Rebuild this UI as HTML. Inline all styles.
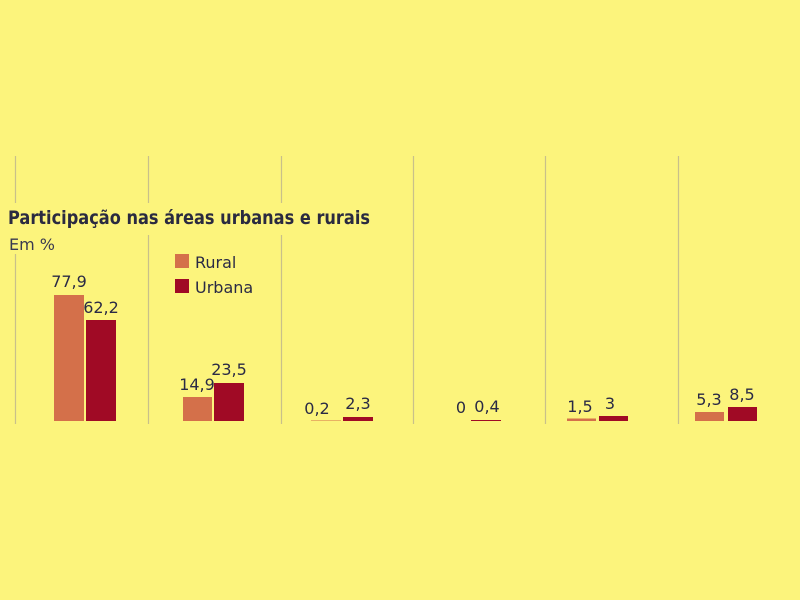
<!DOCTYPE html>
<html><head><meta charset="utf-8"><style>
html,body{margin:0;padding:0;background:#fcf47c;}
svg{display:block;font-family:"DejaVu Sans","Liberation Sans",sans-serif;}
</style></head><body>
<svg width="800" height="600" viewBox="0 0 800 600">
<rect width="800" height="600" fill="#fcf47c"/>
<g stroke="#c9c08a" stroke-width="1.2">
<line x1="15.5" y1="156" x2="15.5" y2="424"/>
<line x1="148.5" y1="156" x2="148.5" y2="424"/>
<line x1="281.5" y1="156" x2="281.5" y2="424"/>
<line x1="413.5" y1="156" x2="413.5" y2="424"/>
<line x1="545.5" y1="156" x2="545.5" y2="424"/>
<line x1="678.5" y1="156" x2="678.5" y2="424"/>
</g>
<rect x="8" y="203" width="365" height="32" fill="#fcf47c"/>
<text x="8" y="224" font-size="19" font-weight="bold" fill="#2a2a40" textLength="362" lengthAdjust="spacingAndGlyphs">Participação nas áreas urbanas e rurais</text>
<rect x="8" y="234" width="50" height="20" fill="#fcf47c"/>
<text x="9" y="250" font-size="16" fill="#3a3a50">Em %</text>
<rect x="175" y="254" width="14" height="14" fill="#d4704a"/>
<text x="195" y="268" font-size="16" fill="#2a2a45">Rural</text>
<rect x="175" y="279" width="14" height="14" fill="#a00a25"/>
<text x="195" y="293" font-size="16" fill="#2a2a45">Urbana</text>
<g fill="#d4704a">
<rect x="54" y="295" width="30" height="126"/>
<rect x="183" y="397" width="29" height="24"/>
<rect x="311" y="420.5" width="30" height="0.5"/>
<rect x="567" y="418.5" width="29" height="2.5"/>
<rect x="695" y="412" width="29" height="9"/>
</g>
<g fill="#a00a25">
<rect x="86" y="320" width="30" height="101"/>
<rect x="214" y="383" width="30" height="38"/>
<rect x="343" y="417" width="30" height="4"/>
<rect x="471" y="420" width="30" height="1"/>
<rect x="599" y="416" width="29" height="5"/>
<rect x="728" y="407" width="29" height="14"/>
</g>
<g font-size="16" fill="#2a2a45" text-anchor="middle">
<text x="69" y="287">77,9</text>
<text x="101" y="313">62,2</text>
<text x="197" y="390">14,9</text>
<text x="229" y="375">23,5</text>
<text x="317" y="414">0,2</text>
<text x="358" y="409">2,3</text>
<text x="461" y="413">0</text>
<text x="487" y="412">0,4</text>
<text x="580" y="412">1,5</text>
<text x="610" y="409">3</text>
<text x="709" y="405">5,3</text>
<text x="742" y="400">8,5</text>
</g>
</svg>
</body></html>
